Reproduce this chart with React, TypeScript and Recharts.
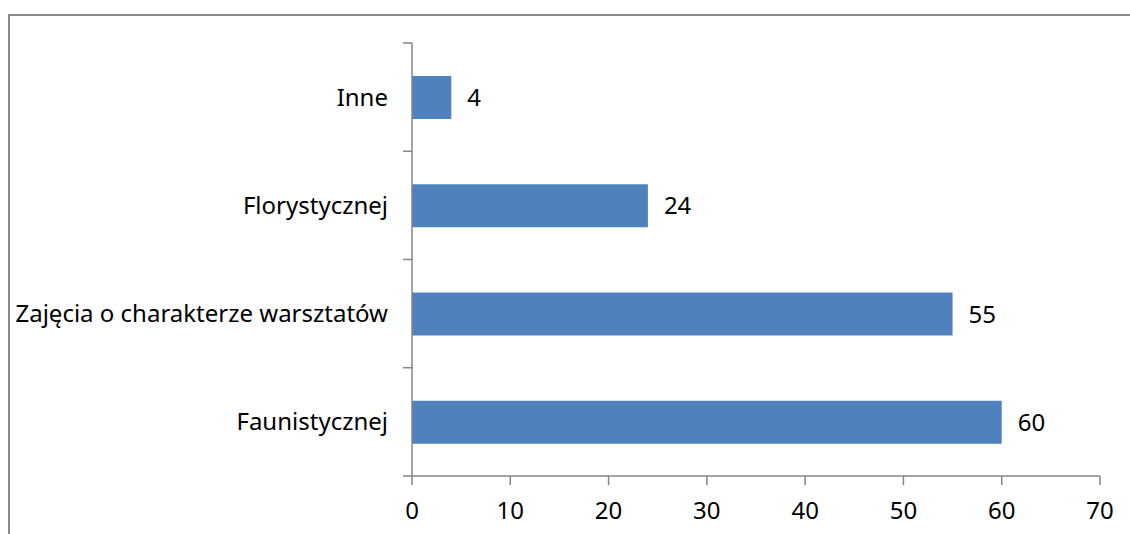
import React from 'react';
import { BarChart, Bar, XAxis, YAxis, LabelList } from 'recharts';

// top-to-bottom as drawn
const categories = ['Inne', 'Florystycznej', 'Zajęcia o charakterze warsztatów', 'Faunistycznej'];
const counts = [4, 24, 55, 60];
const xTicks = [0, 10, 20, 30, 40, 50, 60, 70];

const data = categories.map((name, i) => ({ name, value: counts[i] }));

const FONT = '"Noto Sans", sans-serif';
const AXIS = '#868686';
const FS = 24;

// category label plus a tick mark on each band boundary (Excel style)
function BandTick(props: any) {
  const { x, y, payload, index, visibleTicksCount } = props;
  const half = payload?.offset ?? 0;
  const axisX = x + 18 + 6;
  return (
    <g>
      <line x1={axisX - 9} x2={axisX} y1={y - half} y2={y - half} stroke={AXIS} strokeWidth={1.5} />
      {index === visibleTicksCount - 1 && (
        <line x1={axisX - 9} x2={axisX} y1={y + half} y2={y + half} stroke={AXIS} strokeWidth={1.5} />
      )}
      <text x={x} y={y} dy="0.355em" textAnchor="end" fill="#000" fontSize={FS} fontFamily={FONT}>
        {payload.value}
      </text>
    </g>
  );
}

export default function App() {
  return (
    <div style={{ position: 'absolute', left: 0, top: 0, width: 1130, height: 534, overflow: 'hidden', background: '#fff' }}>
      <div
        style={{
          position: 'absolute',
          left: 8,
          top: 14,
          width: 1200,
          height: 600,
          borderTop: '2px solid #8a8a8a',
          borderLeft: '2px solid #8a8a8a',
        }}
      />
      <div style={{ position: 'absolute', left: 0, top: 0 }}>
        <BarChart width={1130} height={534} data={data} layout="vertical" margin={{ top: 43, right: 30, bottom: 0, left: 0 }}>
          <YAxis
            dataKey="name"
            type="category"
            width={412}
            stroke={AXIS}
            strokeWidth={1.5}
            tickLine={false}
            tickSize={6}
            tickMargin={18}
            tick={<BandTick />}
          />
          <XAxis
            type="number"
            domain={[0, 70]}
            ticks={xTicks}
            height={58}
            tickSize={9}
            tickMargin={17}
            stroke={AXIS}
            strokeWidth={1.5}
            tick={{ fill: '#000', fontSize: FS, fontFamily: FONT }}
          />
          <Bar dataKey="value" fill="#4F81BD" barSize={43} isAnimationActive={false}>
            <LabelList dataKey="value" position="right" offset={16} fill="#000" fontSize={FS} fontFamily={FONT} />
          </Bar>
        </BarChart>
      </div>
    </div>
  );
}
